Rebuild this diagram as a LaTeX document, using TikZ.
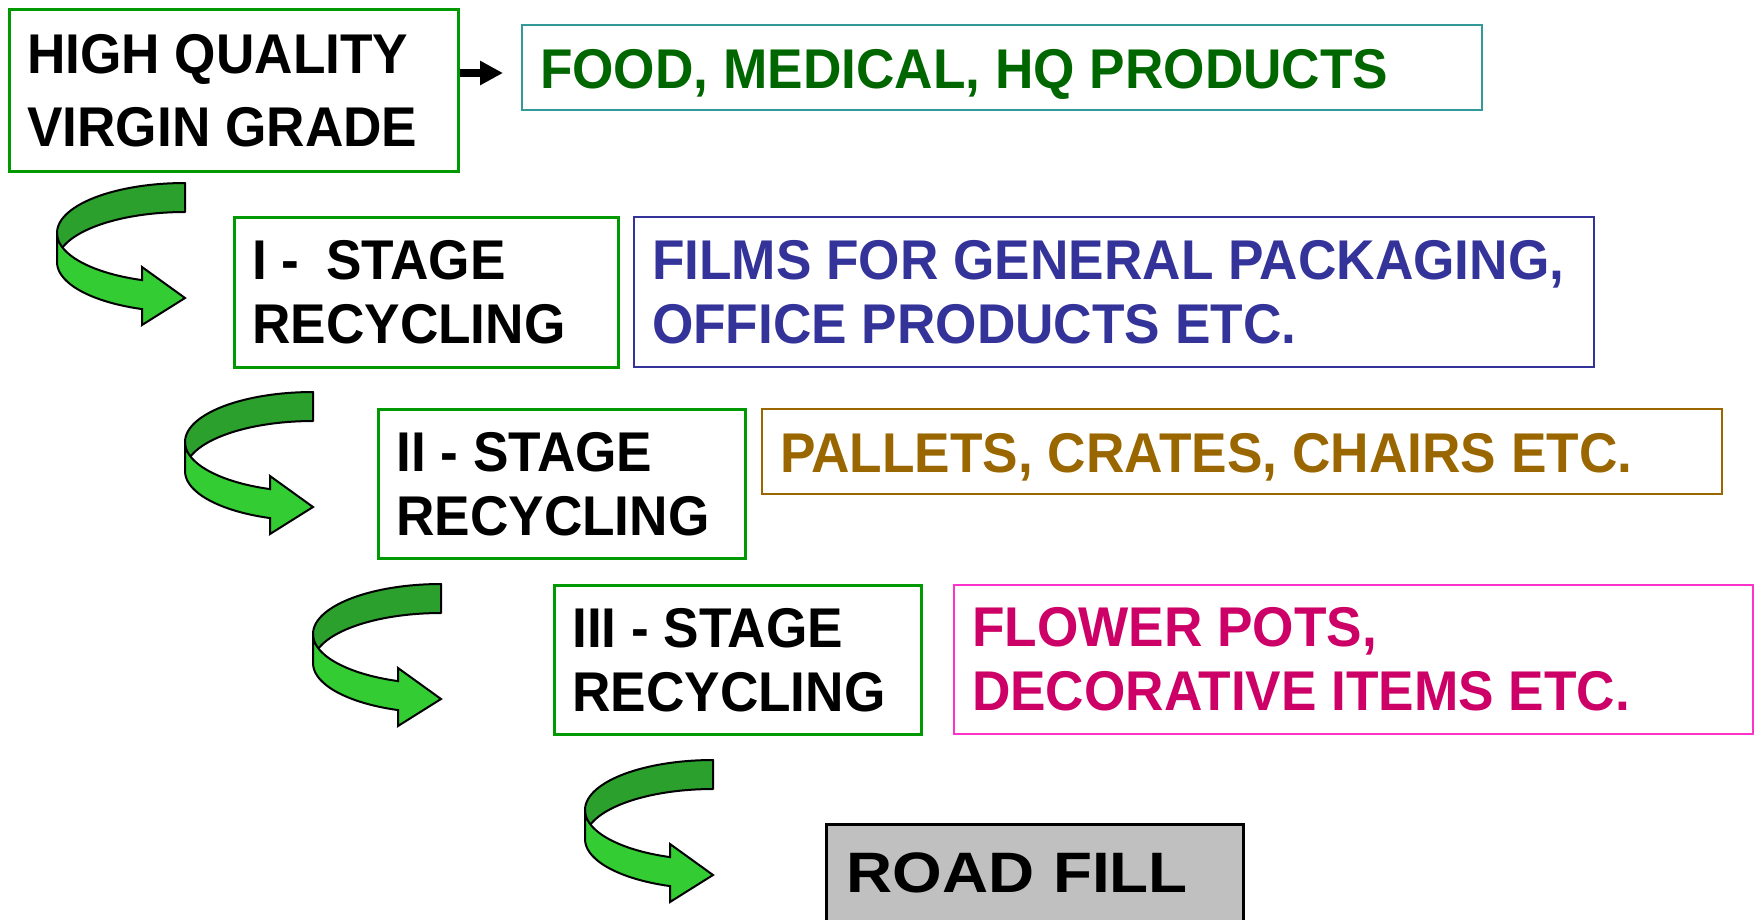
\documentclass[tikz,border=0pt]{standalone}
\usepackage{fontspec}
\setmainfont{Liberation Sans}[FakeStretch=0.95]
\newfontfamily\roadfont{Liberation Sans}[FakeStretch=1.12]
\usepackage{tikz}
\usetikzlibrary{arrows.meta,calc}

\definecolor{stagegreen}{RGB}{0,153,0}
\definecolor{foodgreen}{RGB}{0,102,0}
\definecolor{foodteal}{RGB}{51,153,153}
\definecolor{filmblue}{RGB}{51,51,153}
\definecolor{palletbrown}{RGB}{153,102,0}
\definecolor{flowertext}{RGB}{204,0,102}
\definecolor{flowerpink}{RGB}{255,51,204}
\definecolor{roadgray}{RGB}{192,192,192}
\definecolor{ribbondark}{RGB}{44,160,44}
\definecolor{ribbonlight}{RGB}{51,204,51}

\begin{document}
\begin{tikzpicture}[
    x=1pt, y=-1pt,
    stage/.style={rectangle, draw=stagegreen, line width=2.5pt, anchor=north west, align=left, inner xsep=18pt, inner ysep=4pt, font=\fontsize{56}{64}\selectfont\bfseries, execute at begin node={\spaceskip=\fontdimen2\font\relax}},
    product/.style={rectangle, draw, line width=2pt, anchor=north west, align=left, inner xsep=18pt, inner ysep=4pt, font=\fontsize{56}{64}\selectfont\bfseries, execute at begin node={\spaceskip=\fontdimen2\font\relax}},
    dump/.style={rectangle, draw, fill=roadgray, line width=2.5pt, anchor=north west, align=left, inner xsep=20pt, inner ysep=0pt, font=\roadfont\fontsize{57}{68}\selectfont\bfseries},
    feed/.style={-{Triangle[length=23pt, width=23pt]}, line width=8pt},
    ribbonback/.style={fill=ribbondark, draw=black, line width=2pt, line join=round},
    ribbonfront/.style={fill=ribbonlight, draw=black, line width=2pt, line join=miter}
]
    \useasboundingbox (0,0) rectangle (1758,919);

    % Grades
    \node[stage, text width=413pt, minimum height=162pt, font=\fontsize{56}{73}\selectfont\bfseries] (hq) at (8,8) {HIGH QUALITY\\VIRGIN GRADE};
    \node[stage, text width=348pt, minimum height=150pt] (st1) at (233,216) {I - \hspace{12pt}STAGE\\RECYCLING};
    \node[stage, text width=331pt, minimum height=149pt] (st2) at (377,408) {II - STAGE\\RECYCLING};
    \node[stage, text width=331pt, minimum height=149pt] (st3) at (553,584) {III - STAGE\\RECYCLING};
    \node[dump, text width=377pt, text height=68pt, text depth=40pt] (road) at (825,823) {ROAD FILL};

    % Products
    \node[product, draw=foodteal, text=foodgreen, text width=924pt, minimum height=85pt, text height=42pt, text depth=0pt] (food) at (521,24) {FOOD, MEDICAL, HQ PRODUCTS};
    \node[product, draw=filmblue, text=filmblue, text width=924pt, minimum height=150pt] (films) at (633,216) {FILMS FOR GENERAL PACKAGING,\\OFFICE PRODUCTS ETC.};
    \node[product, draw=palletbrown, text=palletbrown, text width=924pt, minimum height=85pt, text height=42pt, text depth=0pt] (pallets) at (761,408) {PALLETS, CRATES, CHAIRS ETC.};
    \node[product, draw=flowerpink, text=flowertext, text width=763pt, minimum height=149pt] (flower) at (953,584) {FLOWER POTS,\\DECORATIVE ITEMS ETC.};

    % Arrow
    \draw[feed] ($(hq.east |- food.west)+(0,5.5)$) -- ($(food.west)+(-18,5.5)$);

    % Curled arrows between grades
    \foreach \ax/\ay in {57/183, 185/392, 313/584, 585/760} {
        \begin{scope}[shift={(\ax,\ay)}]
            \filldraw[ribbonback] plot[domain=270:180, samples=40] ({128+128*cos(\x)}, {50+50*sin(\x)})
                -- plot[domain=180:270, samples=40] ({128+128*cos(\x)}, {79+50*sin(\x)}) -- cycle;
            \filldraw[ribbonfront] plot[domain=180:109.6, samples=30] ({128+128*cos(\x)}, {50+50*sin(\x)})
                -- (85,84) -- (128,115) -- (85,142)
                -- plot[domain=109.6:180, samples=30] ({128+128*cos(\x)}, {79+50*sin(\x)}) -- cycle;
        \end{scope}
    }
\end{tikzpicture}
\end{document}
